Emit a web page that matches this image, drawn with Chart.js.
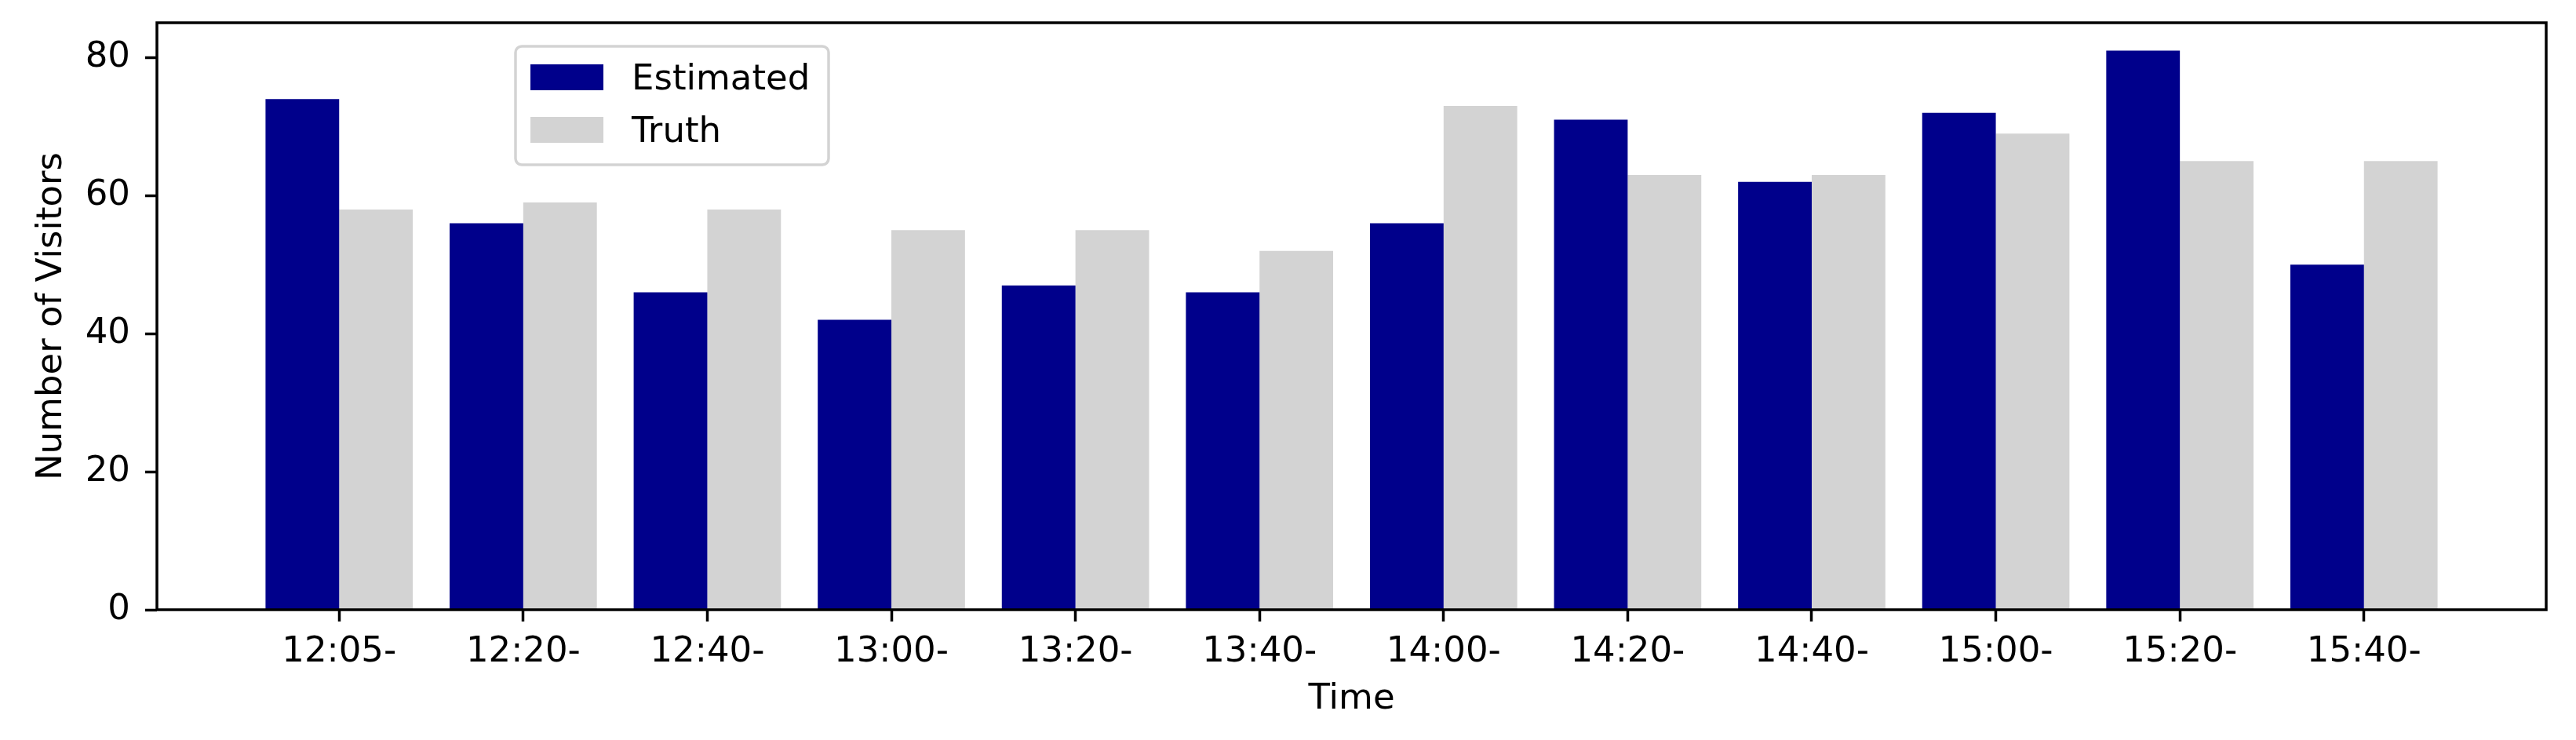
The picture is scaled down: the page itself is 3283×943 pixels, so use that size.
<!DOCTYPE html>
<html>
<head>
<meta charset="utf-8">
<script src="https://cdn.jsdelivr.net/npm/chart.js@4"></script>
<style>
  body { margin: 0; background: #fff; }
</style>
</head>
<body>
<canvas id="visitorsChart" width="3283" height="943"></canvas>
<script>
// --- Data ---
const times = ['12:05-', '12:20-', '12:40-', '13:00-', '13:20-', '13:40-',
               '14:00-', '14:20-', '14:40-', '15:00-', '15:20-', '15:40-'];
const estimated = [74, 56, 46, 42, 47, 46, 56, 71, 62, 72, 81, 50];
const truth = [58, 59, 58, 55, 55, 52, 73, 63, 63, 69, 65, 65];
const yTicks = [0, 20, 40, 60, 80];

const FONT = { family: 'DejaVu Sans', size: 45 };
Chart.defaults.font.family = FONT.family;
Chart.defaults.color = '#000';

// bar chart on a linear x axis so the margins match the original
const toPoints = arr => arr.map((v, i) => ({ x: i, y: v }));

// --- Plot frame (all four spines) ---
const frame = {
  id: 'frame',
  afterDatasetsDraw(chart) {
    const { ctx, chartArea: a } = chart;
    ctx.save();
    ctx.strokeStyle = '#000';
    ctx.lineWidth = 3.5;
    ctx.strokeRect(a.left, a.top, a.right - a.left, a.bottom - a.top);
    ctx.restore();
  }
};

// --- Legend box inside the plot, upper left ---
const insideLegend = {
  id: 'insideLegend',
  afterDraw(chart) {
    const { ctx, chartArea: a } = chart;
    const x = a.left + 457, y = a.top + 30, w = 399, h = 151;
    ctx.save();
    ctx.fillStyle = 'rgba(255,255,255,0.8)';
    ctx.strokeStyle = '#d3d3d3';
    ctx.lineWidth = 3.5;
    ctx.beginPath();
    ctx.roundRect(x, y, w, h, 8);
    ctx.fill();
    ctx.stroke();
    ctx.font = FONT.size + 'px ' + FONT.family;
    ctx.textBaseline = 'alphabetic';
    chart.data.datasets.forEach((ds, i) => {
      const rowTop = y + 23 + i * 67;
      ctx.fillStyle = ds.backgroundColor;
      ctx.fillRect(x + 19, rowTop, 93, 33);
      ctx.fillStyle = '#000';
      ctx.fillText(ds.label, x + 148, rowTop + 32);
    });
    ctx.restore();
  }
};

// fixed axis sizes, no extra label padding around the plot
const fixX = axis => {
  axis.height = 166;
  axis.paddingLeft = 0;
  axis.paddingRight = 0;
};
const fixY = axis => {
  axis.width = 200;
  axis.paddingTop = 0;
  axis.paddingBottom = 0;
};

new Chart(document.getElementById('visitorsChart'), {
  type: 'bar',
  data: {
    datasets: [
      { label: 'Estimated', data: toPoints(estimated), backgroundColor: '#00008b' },
      { label: 'Truth', data: toPoints(truth), backgroundColor: '#d3d3d3' }
    ]
  },
  options: {
    responsive: false,
    animation: false,
    events: [],
    layout: { padding: { left: 0, right: 38, top: 29, bottom: 0 } },
    datasets: { bar: { categoryPercentage: 0.8, barPercentage: 1.0 } },
    plugins: {
      legend: { display: false },
      tooltip: { enabled: false }
    },
    scales: {
      x: {
        type: 'linear',
        offset: false,
        min: -0.99,
        max: 11.99,
        afterBuildTicks: axis => { axis.ticks = times.map((t, i) => ({ value: i })); },
        afterFit: fixX,
        ticks: {
          callback: v => times[v],
          autoSkip: false,
          maxRotation: 0,
          padding: 12,
          font: FONT
        },
        grid: { offset: false, drawOnChartArea: false, drawTicks: true, tickLength: 15, tickWidth: 3.5, tickColor: '#000' },
        border: { display: false },
        title: { display: true, text: 'Time', font: FONT, padding: { top: 0, bottom: 25 } }
      },
      y: {
        min: 0,
        max: 85.05,
        afterBuildTicks: axis => { axis.ticks = yTicks.map(v => ({ value: v })); },
        afterFit: fixY,
        ticks: { padding: 19, font: FONT },
        grid: { drawOnChartArea: false, drawTicks: true, tickLength: 15, tickWidth: 3.5, tickColor: '#000' },
        border: { display: false },
        title: { display: true, text: 'Number of Visitors', font: FONT, padding: { top: 39, bottom: 0 } }
      }
    }
  },
  plugins: [frame, insideLegend]
});
</script>
</body>
</html>
